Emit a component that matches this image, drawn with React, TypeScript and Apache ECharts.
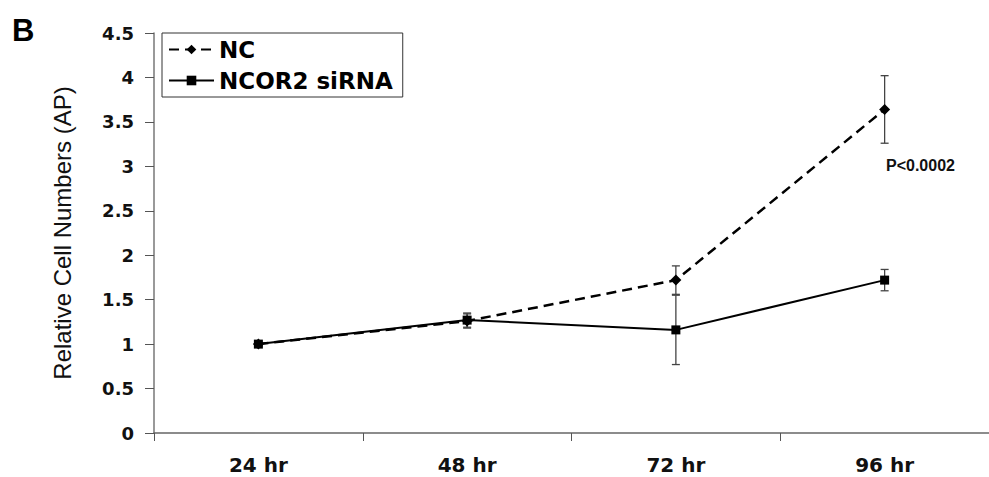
import React, { useEffect, useRef } from "react";
import * as echarts from "echarts";

const categories = ["24 hr", "48 hr", "72 hr", "96 hr"];
const ncValues = [1.0, 1.26, 1.72, 3.64];
const ncErrors = [0.02, 0.08, 0.16, 0.38];
const siValues = [1.0, 1.27, 1.16, 1.72];
const siErrors = [0.02, 0.08, 0.39, 0.12];
const yTicks = { min: 0, max: 4.5, interval: 0.5 };
const panelLabel = "B";
const pLabel = "P<0.0002";
const yTitle = "Relative Cell Numbers (AP)";

const BOLD = "'DejaVu Sans', sans-serif";
const ARIAL = "'Liberation Sans', Arial, sans-serif";

function errData(vals: number[], errs: number[]) {
  return vals.map((v, i) => [i, v - errs[i], v + errs[i]]);
}

function errorRender(params: any, api: any) {
  const i = api.value(0);
  const lo = api.coord([i, api.value(1)]);
  const hi = api.coord([i, api.value(2)]);
  const w = 4;
  const style = { stroke: "#444", lineWidth: 1.3 };
  return {
    type: "group",
    children: [
      { type: "line", shape: { x1: lo[0], y1: lo[1], x2: hi[0], y2: hi[1] }, style },
      { type: "line", shape: { x1: lo[0] - w, y1: lo[1], x2: lo[0] + w, y2: lo[1] }, style },
      { type: "line", shape: { x1: hi[0] - w, y1: hi[1], x2: hi[0] + w, y2: hi[1] }, style },
    ],
  };
}

export default function App() {
  const ref = useRef<HTMLDivElement>(null);
  useEffect(() => {
    if (!ref.current) return;
    const chart = echarts.init(ref.current, null, { renderer: "svg" });
    chart.setOption({
      animation: false,
      backgroundColor: "#ffffff",
      grid: { left: 154, top: 33, bottom: 44, right: 0 },
      legend: {
        data: ["NC", "NCOR2 siRNA"],
        orient: "vertical",
        left: 162,
        top: 33,
        padding: [5, 10, 5, 6],
        itemGap: 8,
        itemWidth: 45,
        itemHeight: 12,
        borderColor: "#333",
        borderWidth: 1,
        backgroundColor: "#fff",
        textStyle: { fontFamily: BOLD, fontWeight: "bold", fontSize: 23, color: "#000", lineHeight: 22 },
      },
      xAxis: {
        type: "category",
        data: categories,
        boundaryGap: true,
        axisLine: { lineStyle: { color: "#666", width: 1.5 } },
        axisTick: { show: true, length: 8, lineStyle: { color: "#555" } },
        axisLabel: { fontFamily: BOLD, fontWeight: "bold", fontSize: 20, color: "#111", margin: 22 },
      },
      yAxis: {
        type: "value",
        min: yTicks.min,
        max: yTicks.max,
        interval: yTicks.interval,
        name: yTitle,
        nameLocation: "middle",
        nameGap: 80,
        nameTextStyle: { fontFamily: ARIAL, fontSize: 24, color: "#111" },
        axisLine: { show: true, lineStyle: { color: "#777", width: 1.5 } },
        axisTick: { show: true, length: 9, lineStyle: { color: "#555" } },
        splitLine: { show: false },
        axisLabel: { fontFamily: BOLD, fontWeight: "bold", fontSize: 18, color: "#111", margin: 20 },
      },
      series: [
        {
          name: "NC error",
          type: "custom",
          renderItem: errorRender,
          data: errData(ncValues, ncErrors),
          encode: { x: 0, y: [1, 2] },
          z: 1,
        },
        {
          name: "NCOR2 siRNA error",
          type: "custom",
          renderItem: errorRender,
          data: errData(siValues, siErrors),
          encode: { x: 0, y: [1, 2] },
          z: 1,
        },
        {
          name: "NC",
          type: "line",
          data: ncValues,
          symbol: "diamond",
          symbolSize: 11,
          itemStyle: { color: "#000" },
          lineStyle: { color: "#000", width: 2.5, type: [10, 6] },
          z: 3,
        },
        {
          name: "NCOR2 siRNA",
          type: "line",
          data: siValues,
          symbol: "rect",
          symbolSize: 9,
          itemStyle: { color: "#000" },
          lineStyle: { color: "#000", width: 2 },
          z: 3,
        },
      ],
      graphic: [
        {
          type: "text",
          left: 12,
          top: 15,
          style: { text: panelLabel, fontFamily: ARIAL, fontWeight: "bold", fontSize: 31, fill: "#000" },
        },
        {
          type: "text",
          left: 886,
          top: 157,
          style: { text: pLabel, fontFamily: ARIAL, fontWeight: "bold", fontSize: 16, fill: "#111" },
        },
      ],
    });
    return () => chart.dispose();
  }, []);
  return <div ref={ref} style={{ width: 989, height: 477, position: "fixed", left: 0, top: 0 }} />;
}
